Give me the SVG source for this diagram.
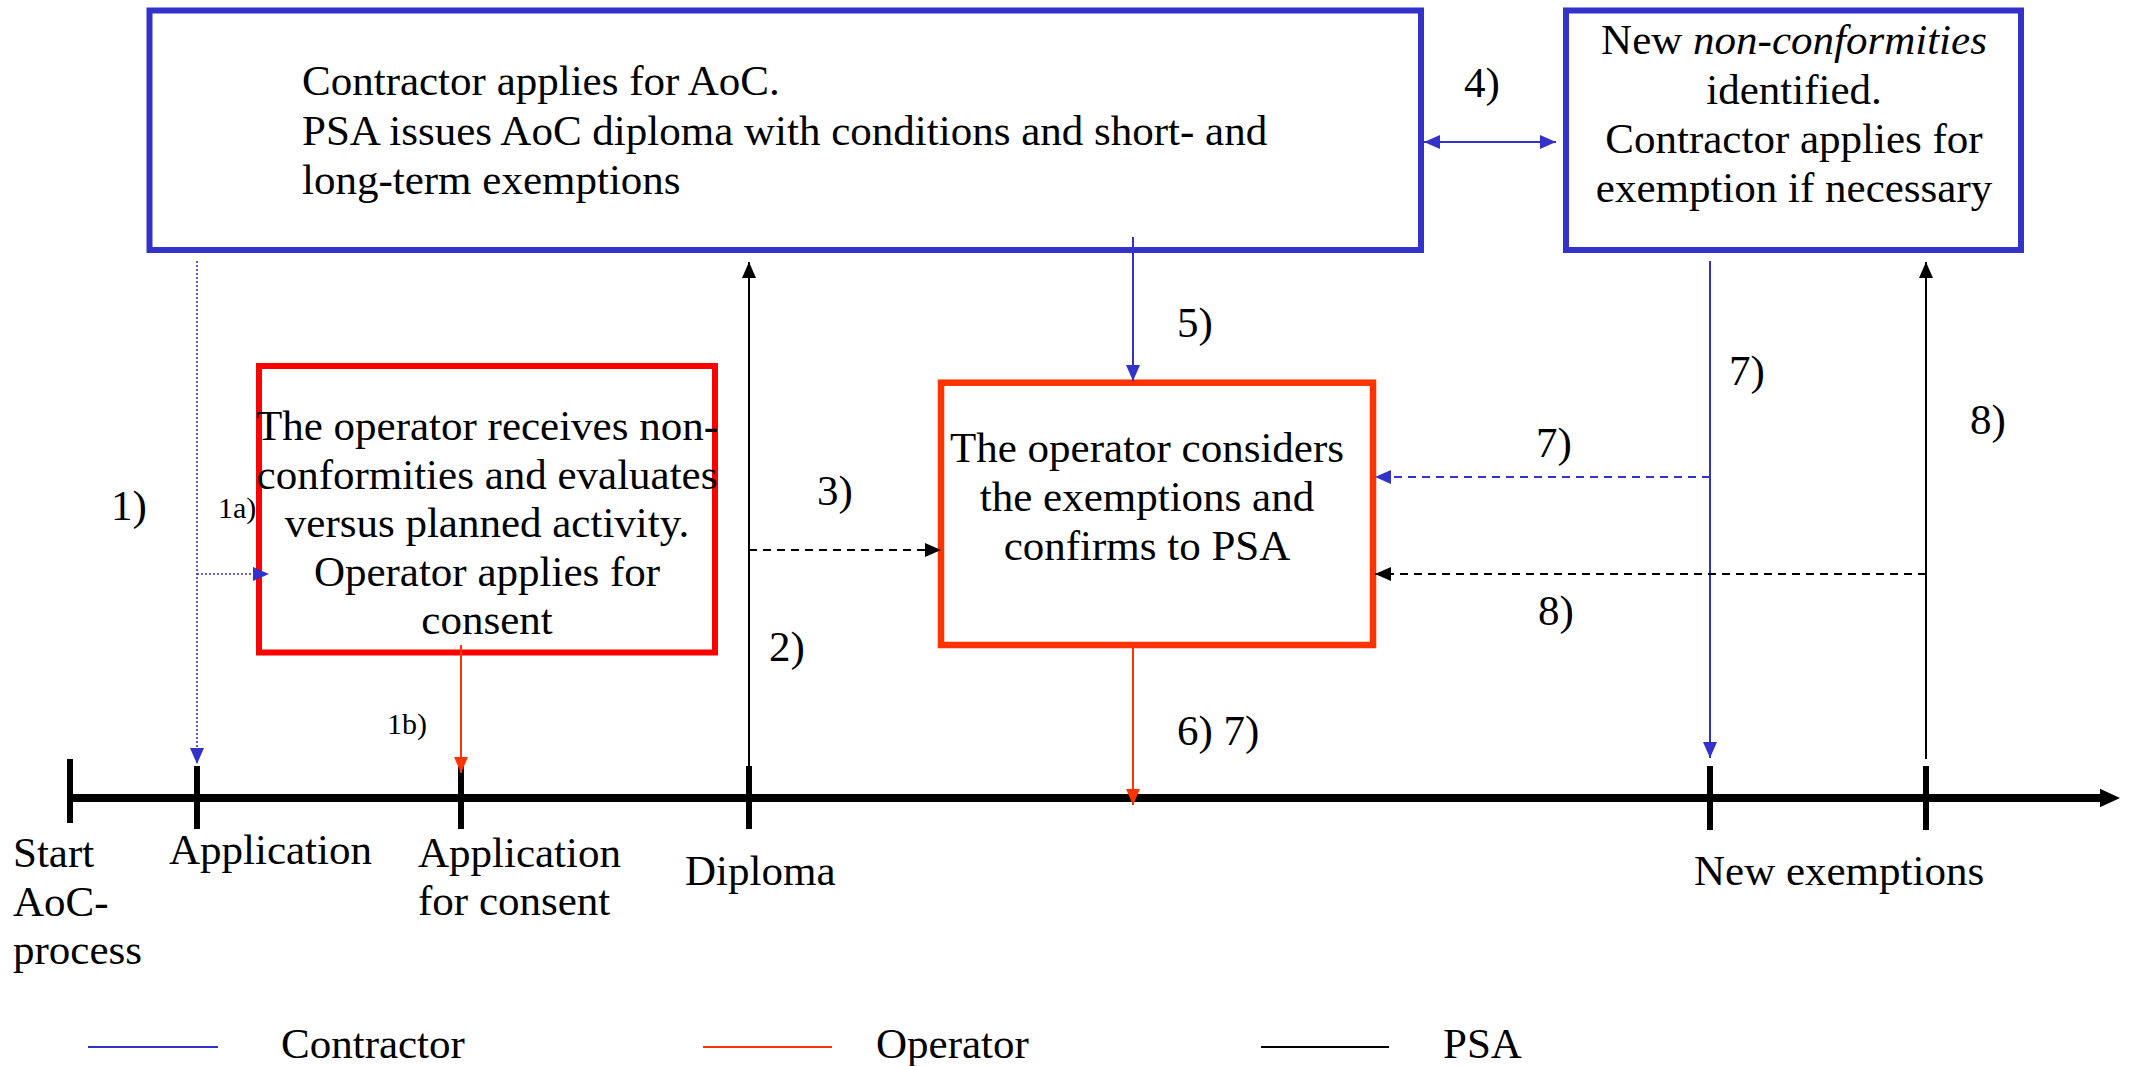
<svg xmlns="http://www.w3.org/2000/svg" width="2130" height="1066" viewBox="0 0 2130 1066">
<style>
text{font-family:"Liberation Serif","Times New Roman",serif;font-size:43px;fill:#000}
.sm{font-size:30px}
.mid{text-anchor:middle}
.box{fill:#fff}
.bl{stroke:#3333CC;stroke-width:6}
.rd{stroke:#FF0000;stroke-width:6}
.or{stroke:#FF3300;stroke-width:6.5}
.c{fill:none;stroke-width:2}
.cb{stroke:#3333CC}
.cr{stroke:#FF3300}
.ck{stroke:#000}
.dash{stroke-dasharray:8 6}
.dot{stroke-dasharray:2 2;stroke-width:1.6}
.tick{stroke:#000;stroke-width:6}
</style>
<defs>
<marker id="ab" viewBox="0 0 16 14" refX="16" refY="7" markerWidth="16" markerHeight="14" markerUnits="userSpaceOnUse" orient="auto"><path d="M0,0L16,7L0,14z" fill="#3333CC"/></marker>
<marker id="ab2" viewBox="0 0 16 14" refX="0" refY="7" markerWidth="16" markerHeight="14" markerUnits="userSpaceOnUse" orient="auto"><path d="M16,0L0,7L16,14z" fill="#3333CC"/></marker>
<marker id="ar" viewBox="0 0 16 14" refX="16" refY="7" markerWidth="16" markerHeight="14" markerUnits="userSpaceOnUse" orient="auto"><path d="M0,0L16,7L0,14z" fill="#FF3300"/></marker>
<marker id="ak" viewBox="0 0 16 14" refX="16" refY="7" markerWidth="16" markerHeight="14" markerUnits="userSpaceOnUse" orient="auto"><path d="M0,0L16,7L0,14z" fill="#000"/></marker>
</defs>

<g id="node-aoc">
<rect class="box bl" x="149.5" y="10.5" width="1271.5" height="239.5"/>
<text x="302" y="95">Contractor applies for AoC.</text>
<text x="302" y="144.5">PSA issues AoC diploma with conditions and short- and</text>
<text x="302" y="194">long-term exemptions</text>
</g>

<g id="node-new-nc">
<rect class="box bl" x="1566" y="10.5" width="455" height="239.5"/>
<text class="mid" x="1794" y="54">New <tspan font-style="italic">non-conformities</tspan></text>
<text class="mid" x="1794" y="103.5">identified.</text>
<text class="mid" x="1794" y="153">Contractor applies for</text>
<text class="mid" x="1794" y="202">exemption if necessary</text>
</g>

<g id="node-operator-eval">
<rect class="box rd" x="259" y="366" width="456" height="286.5"/>
<text class="mid" x="487" y="440">The operator receives non-</text>
<text class="mid" x="487" y="488.5">conformities and evaluates</text>
<text class="mid" x="487" y="537">versus planned activity.</text>
<text class="mid" x="487" y="585.5">Operator applies for</text>
<text class="mid" x="487" y="634">consent</text>
</g>

<g id="node-operator-consider">
<rect class="box or" x="941" y="382.7" width="432" height="262.3"/>
<text class="mid" x="1147" y="462">The operator considers</text>
<text class="mid" x="1147" y="510.6">the exemptions and</text>
<text class="mid" x="1147" y="559.8">confirms to PSA</text>
</g>

<g id="timeline">
<line x1="70" y1="798" x2="2102" y2="798" stroke="#000" stroke-width="8"/>
<path d="M2100,788.7L2120,798L2100,807.3z" fill="#000"/>
<line class="tick" x1="70" y1="759" x2="70" y2="823"/>
<line class="tick" x1="197" y1="766" x2="197" y2="829"/>
<line class="tick" x1="461" y1="766" x2="461" y2="829"/>
<line class="tick" x1="749" y1="766" x2="749" y2="829"/>
<line class="tick" x1="1710" y1="766" x2="1710" y2="830"/>
<line class="tick" x1="1926" y1="766" x2="1926" y2="830"/>
<text x="13" y="867">Start</text>
<text x="13" y="916">AoC-</text>
<text x="13" y="964">process</text>
<text x="169" y="863.5">Application</text>
<text x="418" y="867">Application</text>
<text x="418" y="915">for consent</text>
<text x="685" y="885">Diploma</text>
<text x="1694" y="885">New exemptions</text>
</g>

<g id="connectors">
<line class="c cb dot" x1="197" y1="261" x2="197" y2="764" marker-end="url(#ab)"/>
<line class="c cb dot" x1="197" y1="574" x2="269" y2="574" marker-end="url(#ab)"/>
<line class="c cr" x1="461" y1="645" x2="461" y2="773" marker-end="url(#ar)"/>
<line class="c ck" x1="749" y1="766" x2="749" y2="262" marker-end="url(#ak)"/>
<line class="c ck dash" x1="749" y1="550" x2="941" y2="550" marker-end="url(#ak)"/>
<line class="c cb" x1="1424" y1="142" x2="1556" y2="142" stroke-width="3" marker-start="url(#ab2)" marker-end="url(#ab)"/>
<line class="c cb" x1="1133" y1="237" x2="1133" y2="381" marker-end="url(#ab)"/>
<line class="c cr" x1="1133" y1="648" x2="1133" y2="805" marker-end="url(#ar)"/>
<line class="c cb" x1="1710" y1="261" x2="1710" y2="758" marker-end="url(#ab)"/>
<line class="c cb dash" x1="1710" y1="477" x2="1375" y2="477" marker-end="url(#ab)"/>
<line class="c ck" x1="1926" y1="759" x2="1926" y2="262" marker-end="url(#ak)"/>
<line class="c ck dash" x1="1926" y1="574" x2="1375" y2="574" marker-end="url(#ak)"/>
</g>

<g id="labels">
<text x="111" y="520">1)</text>
<text class="sm" x="218" y="518">1a)</text>
<text class="sm" x="387" y="734">1b)</text>
<text x="769" y="661">2)</text>
<text x="817" y="505">3)</text>
<text x="1464" y="97">4)</text>
<text x="1177" y="337">5)</text>
<text x="1177" y="745">6) 7)</text>
<text x="1729" y="385">7)</text>
<text x="1536" y="457">7)</text>
<text x="1970" y="434">8)</text>
<text x="1538" y="625">8)</text>
</g>

<g id="legend">
<line x1="88" y1="1047" x2="218" y2="1047" stroke="#3333CC" stroke-width="2"/>
<text x="281" y="1058">Contractor</text>
<line x1="703" y1="1047" x2="832" y2="1047" stroke="#FF3300" stroke-width="2"/>
<text x="876" y="1058">Operator</text>
<line x1="1261" y1="1047" x2="1389" y2="1047" stroke="#000" stroke-width="2"/>
<text x="1443" y="1058">PSA</text>
</g>
</svg>
